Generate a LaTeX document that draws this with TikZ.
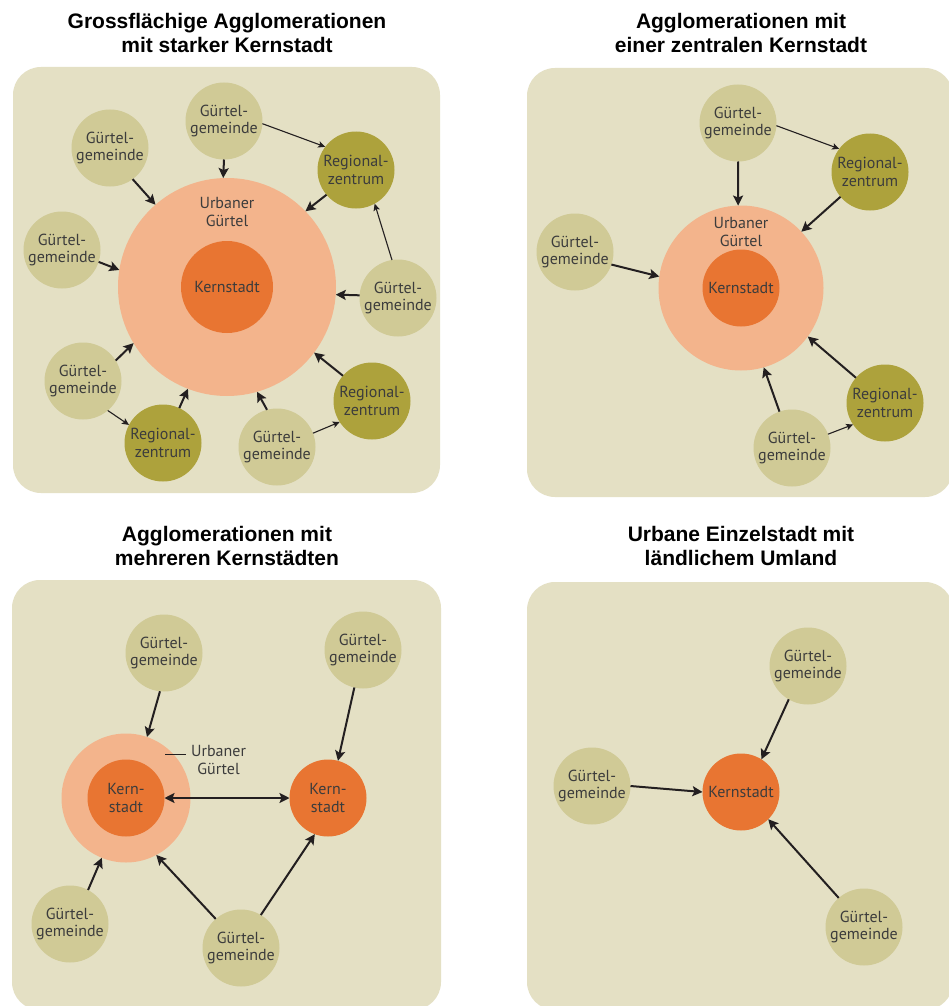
\documentclass[tikz,border=0pt]{standalone}
\usepackage{fontspec}
\setmainfont{PT Sans}
\newfontfamily\titlefont{Liberation Sans}
\usetikzlibrary{arrows.meta}
\definecolor{panelbg}{HTML}{E4E0C4}
\definecolor{guertel}{HTML}{D0CA96}
\definecolor{regio}{HTML}{ADA23C}
\definecolor{urban}{HTML}{F3B48C}
\definecolor{kern}{HTML}{E87532}
\definecolor{ink}{HTML}{3C3C3C}
\definecolor{arr}{HTML}{231F20}
\tikzset{
  panel/.style={fill=panelbg, rounded corners=28pt},
  title/.style={font=\titlefont\bfseries\fontsize{21}{24}\selectfont, align=center, text=black},
  circtext/.style={text=ink, align=center, font=\fontsize{16}{17.5}\selectfont},
  gc/.style={circle, fill=guertel, minimum size=77pt, inner sep=0pt, outer sep=0pt, circtext},
  rc/.style={gc, fill=regio},
  ugc/.style={circle, fill=urban, inner sep=0pt, outer sep=0pt},
  kc/.style={circle, fill=kern, minimum size=77pt, inner sep=0pt, outer sep=0pt, circtext},
  lbl/.style={circtext, inner sep=0pt},
  bigarrow/.style={draw=arr, line width=2pt, -{Stealth[length=10pt,width=10pt,inset=2pt]}},
  smallarrow/.style={draw=arr, line width=1.1pt, -{Stealth[length=7pt,width=6.5pt,inset=1.5pt]}},
  dblarrow/.style={draw=arr, line width=2pt, {Stealth[length=10pt,width=10pt,inset=2pt]}-{Stealth[length=10pt,width=10pt,inset=2pt]}},
}
\begin{document}
\begin{tikzpicture}[x=1pt,y=-1pt]
\useasboundingbox (0,0) rectangle (949,1006);
\fill[white] (0,0) rectangle (949,1006);
% panels
\fill[panel] (13,67) rectangle (440,493);
\fill[panel] (527,68) rectangle (953,497);
\fill[panel] (12,580) rectangle (441,1010);
\fill[panel] (527,582) rectangle (953,1010);
% titles
\node[title] (t1) at (227,33) {Grossflächige Agglomerationen\\mit starker Kernstadt};
\node[title] (t2) at (741,33) {Agglomerationen mit\\einer zentralen Kernstadt};
\node[title] (t3) at (227,546) {Agglomerationen mit\\mehreren Kernstädten};
\node[title] (t4) at (741,546) {Urbane Einzelstadt mit\\ländlichem Umland};

% ---------- Panel 1 ----------
\node[ugc, minimum size=218pt] (ug1) at (227,287) {};
\node[kc, minimum size=92pt] (k1) at (227,287) {Kernstadt};
\node[lbl] (ul1) at (227,212) {Urbaner\\Gürtel};
\node[gc] (g1a) at (224,121) {Gürtel-\\gemeinde};
\node[gc] (g1b) at (110,148) {Gürtel-\\gemeinde};
\node[gc] (g1c) at (62,250) {Gürtel-\\gemeinde};
\node[gc] (g1d) at (83,381) {Gürtel-\\gemeinde};
\node[gc] (g1e) at (277,447) {Gürtel-\\gemeinde};
\node[gc] (g1f) at (398,298) {Gürtel-\\gemeinde};
\node[rc] (r1a) at (356,170) {Regional-\\zentrum};
\node[rc] (r1b) at (372,401) {Regional-\\zentrum};
\node[rc] (r1c) at (163,443) {Regional-\\zentrum};
\draw[bigarrow] (g1a.-90) -- (ug1.92);
\draw[smallarrow] (g1a.-4) -- (r1a.143);
\draw[bigarrow] (g1b.-54) -- (ug1.131);
\draw[bigarrow] (r1a.-140) -- (ug1.44);
\draw[bigarrow] (g1c.-18) -- (ug1.171);
\draw[smallarrow] (g1f.99) -- (r1a.-61);
\draw[bigarrow] (g1f.176) -- (ug1.-4);
\draw[bigarrow] (g1d.32) -- (ug1.-149);
\draw[smallarrow] (g1d.-50) -- (r1c.152);
\draw[bigarrow] (r1c.65) -- (ug1.-111);
\draw[bigarrow] (g1e.105) -- (ug1.-74);
\draw[smallarrow] (g1e.21) -- (r1b.-147);
\draw[bigarrow] (r1b.139) -- (ug1.-37);

% ---------- Panel 2 ----------
\node[ugc, minimum size=165pt] (ug2) at (741,288) {};
\node[kc] (k2) at (741,288) {Kernstadt};
\node[lbl] (ul2) at (741,232) {Urbaner\\Gürtel};
\node[gc] (g2a) at (738,123) {Gürtel-\\gemeinde};
\node[gc] (g2b) at (575,252) {Gürtel-\\gemeinde};
\node[gc] (g2c) at (792,448) {Gürtel-\\gemeinde};
\node[rc] (r2a) at (870,172) {Regional-\\zentrum};
\node[rc] (r2b) at (885,403) {Regional-\\zentrum};
\draw[bigarrow] (g2a.-90) -- (ug2.92);
\draw[smallarrow] (g2a.-4) -- (r2a.143);
\draw[bigarrow] (r2a.-140) -- (ug2.43);
\draw[bigarrow] (g2b.-19) -- (ug2.172);
\draw[bigarrow] (r2b.139) -- (ug2.-36);
\draw[bigarrow] (g2c.109) -- (ug2.-74);
\draw[smallarrow] (g2c.21) -- (r2b.-146);

% ---------- Panel 3 ----------
\node[ugc, minimum size=129pt] (ug3) at (126,798) {};
\node[kc] (k3a) at (126,798) {Kern-\\stadt};
\node[kc] (k3b) at (328,798) {Kern-\\stadt};
\node[lbl, anchor=west] (ul3) at (191,760) {Urbaner\\Gürtel};
\coordinate (lead3a) at (165,754);
\coordinate (lead3b) at (186,754);
\draw[draw=arr, line width=0.6pt] (lead3a) -- (lead3b);
\node[gc] (g3a) at (164,653) {Gürtel-\\gemeinde};
\node[gc] (g3b) at (363,650) {Gürtel-\\gemeinde};
\node[gc] (g3c) at (70,924) {Gürtel-\\gemeinde};
\node[gc] (g3d) at (241,948) {Gürtel-\\gemeinde};
\draw[bigarrow] (g3a.-96) -- (ug3.71);
\draw[bigarrow] (g3b.-103) -- (k3b.75);
\draw[dblarrow] (k3a.0) -- (k3b.180);
\draw[bigarrow] (g3c.62) -- (ug3.-112);
\draw[bigarrow] (g3d.131) -- (ug3.-62);
\draw[bigarrow] (g3d.59) -- (k3b.-110);

% ---------- Panel 4 ----------
\node[kc] (k4) at (741,792) {Kernstadt};
\node[gc] (g4a) at (808,666) {Gürtel-\\gemeinde};
\node[gc] (g4b) at (592,786) {Gürtel-\\gemeinde};
\node[gc] (g4c) at (864,927) {Gürtel-\\gemeinde};
\draw[bigarrow] (g4a.-120) -- (k4.58);
\draw[bigarrow] (g4b.0) -- (k4.180);
\draw[bigarrow] (g4c.131) -- (k4.-45);
\end{tikzpicture}
\end{document}
